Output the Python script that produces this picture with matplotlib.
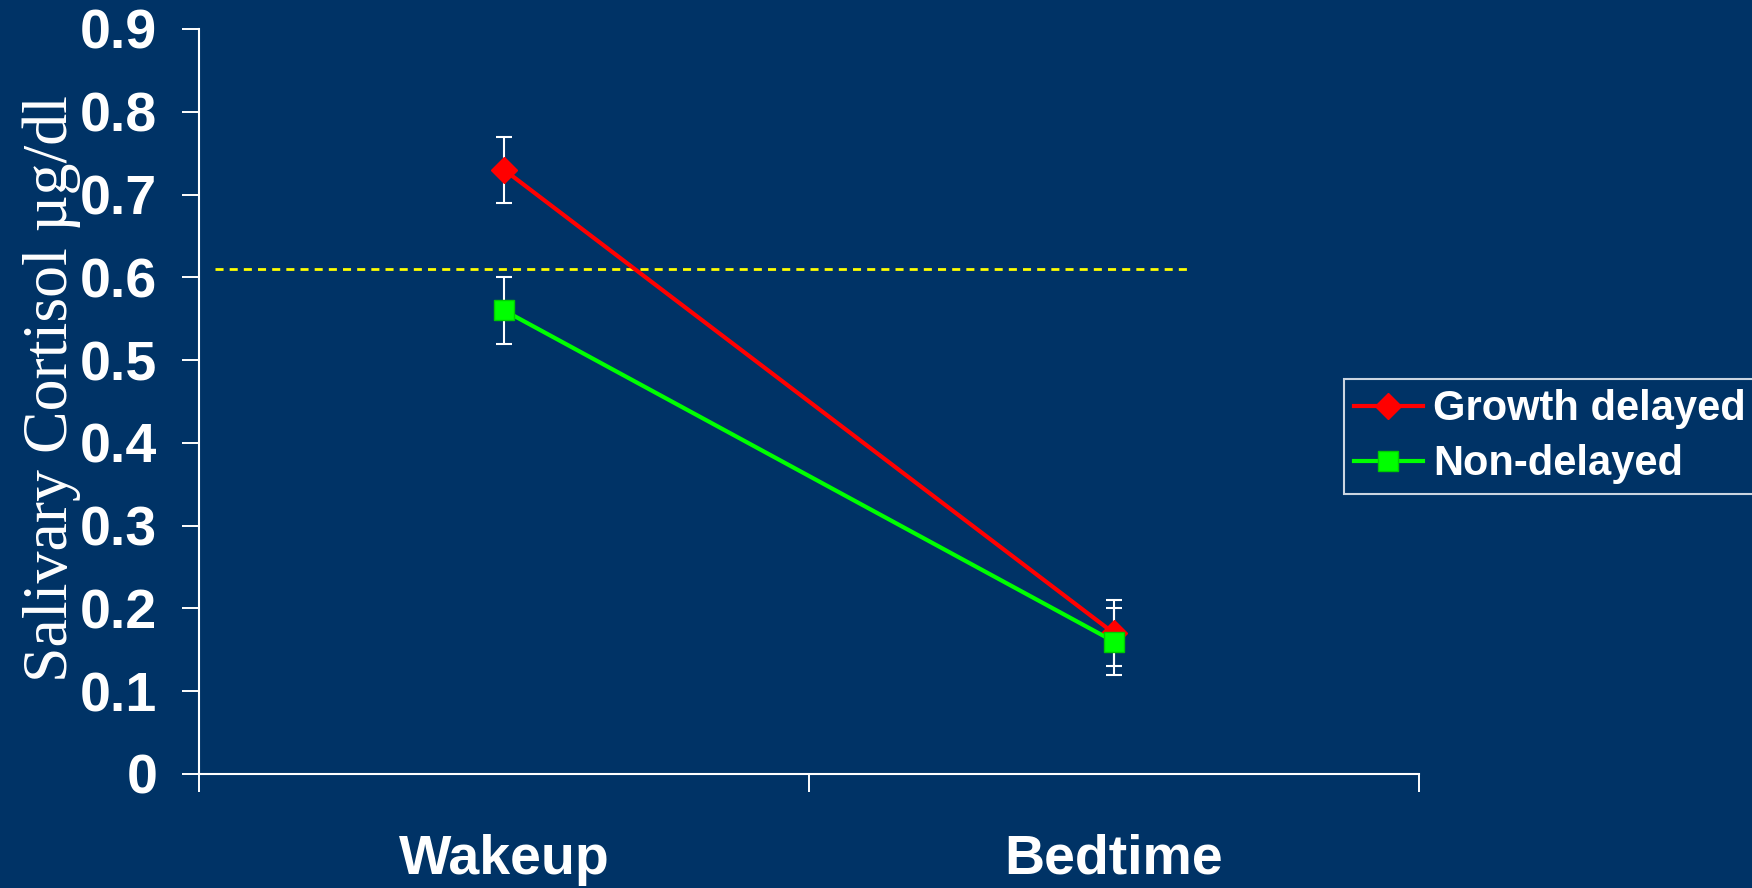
import matplotlib
matplotlib.use("Agg")
import matplotlib.pyplot as plt
from matplotlib.ticker import FixedLocator, NullFormatter, FixedFormatter

# mean salivary cortisol at each sampling time, with error bar half-widths
times = ["Wakeup", "Bedtime"]
growth_delayed = [0.73, 0.17]
growth_delayed_err = [0.04, 0.04]
non_delayed = [0.56, 0.16]
non_delayed_err = [0.04, 0.04]
reference_level = 0.61
y_ticks = [0, 0.1, 0.2, 0.3, 0.4, 0.5, 0.6, 0.7, 0.8, 0.9]
y_tick_labels = ["0", "0.1", "0.2", "0.3", "0.4", "0.5", "0.6", "0.7", "0.8", "0.9"]

bg = "#003366"
fig = plt.figure(figsize=(17.52, 8.88), dpi=100, facecolor=bg)
ax = fig.add_axes([0.1136, 0.1284, 0.6963, 0.839], facecolor=bg)

xpos = [0.5, 1.5]

ax.plot([0.026, 1.62], [reference_level, reference_level], color="#ffff00",
	linestyle=(0, (2.9, 2.2)), linewidth=2, zorder=1)

ax.errorbar(xpos, growth_delayed, yerr=growth_delayed_err, fmt="none",
	ecolor="white", elinewidth=1.5, capsize=6, capthick=1.5, zorder=2)
ax.errorbar(xpos, non_delayed, yerr=non_delayed_err, fmt="none",
	ecolor="white", elinewidth=1.5, capsize=6, capthick=1.5, zorder=2)

ax.plot(xpos, growth_delayed, color="#ff0000", linewidth=3, marker="D",
	markersize=13, markerfacecolor="#ff0000", markeredgecolor="#ff0000",
	label="Growth delayed", zorder=3)
ax.plot(xpos, non_delayed, color="#00ff00", linewidth=3, marker="s",
	markersize=15, markerfacecolor="#00ff00", markeredgecolor="#00cc00",
	label="Non-delayed", zorder=4)

ax.set_xlim(0, 2)
ax.set_ylim(0, 0.9)

for side in ["top", "right"]:
	ax.spines[side].set_visible(False)
for side in ["left", "bottom"]:
	ax.spines[side].set_color("white")
	ax.spines[side].set_linewidth(1.5)

ax.set_yticks(y_ticks)
ax.set_yticklabels(y_tick_labels)
ax.tick_params(axis="y", colors="white", length=12, width=1.4, pad=18,
	labelsize=40)
for lbl in ax.get_yticklabels():
	lbl.set_fontfamily("Liberation Sans")
	lbl.set_fontweight("bold")

# category boundaries carry the ticks, category centres carry the labels
ax.xaxis.set_major_locator(FixedLocator([0, 1, 2]))
ax.xaxis.set_major_formatter(NullFormatter())
ax.xaxis.set_minor_locator(FixedLocator(xpos))
ax.xaxis.set_minor_formatter(FixedFormatter(times))
ax.tick_params(axis="x", which="major", colors="white", length=13, width=1.4,
	direction="out")
ax.tick_params(axis="x", which="minor", length=0, pad=43, labelsize=40,
	labelcolor="white")
for lbl in ax.get_xticklabels(minor=True):
	lbl.set_fontfamily("Liberation Sans")
	lbl.set_fontweight("bold")

ax.set_ylabel("Salivary Cortisol µg/dl", color="white", fontsize=46,
	fontfamily="Liberation Serif")
ax.yaxis.set_label_coords(-0.121, 0.517)
ax.yaxis.label.set_verticalalignment("center")

leg = ax.legend(loc="upper left", bbox_to_anchor=(0.9385, 0.530),
	bbox_transform=ax.transAxes, frameon=True, fancybox=False,
	facecolor=bg, edgecolor="white", handlelength=1.65, borderpad=0.24,
	labelspacing=0.36, handletextpad=0.25, borderaxespad=0,
	prop={"family": "Liberation Sans", "weight": "bold", "size": 30})
leg.get_frame().set_linewidth(1.5)
for t in leg.get_texts():
	t.set_color("white")

fig.savefig("out.png", dpi=100, facecolor=bg)
